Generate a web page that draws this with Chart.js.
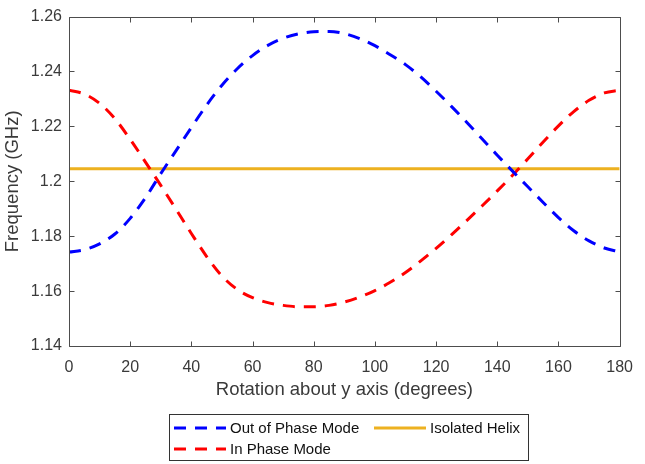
<!DOCTYPE html>
<html>
<head>
<meta charset="utf-8">
<script src="https://cdn.jsdelivr.net/npm/chart.js@4"></script>
<style>
html,body{margin:0;padding:0;background:#fff;}
#wrap{position:relative;width:645px;height:464px;}
</style>
</head>
<body>
<div id="wrap"><canvas id="c" width="645" height="464"></canvas></div>
<script>
// ---- data ----
const angles = [0,5,10,15,20,25,30,35,40,45,50,55,60,65,70,75,80,85,90,95,100,105,110,115,120,125,130,135,140,145,150,155,160,165,170,175,180];
const outOfPhase = [1.1742,1.1751,1.1772,1.1808,1.1865,1.1940,1.2028,1.2112,1.2196,1.2278,1.2350,1.2410,1.2458,1.2495,1.2521,1.2537,1.2545,1.2546,1.2538,1.2520,1.2494,1.2461,1.2425,1.2380,1.2328,1.2273,1.2215,1.2155,1.2095,1.2037,1.1980,1.1923,1.1868,1.1820,1.1783,1.1757,1.1743];
const inPhase = [1.2332,1.2318,1.2284,1.2228,1.2153,1.2070,1.1985,1.1898,1.1810,1.1726,1.1655,1.1606,1.1576,1.1558,1.1548,1.1543,1.1543,1.1548,1.1560,1.1578,1.1602,1.1632,1.1668,1.1710,1.1756,1.1805,1.1857,1.1910,1.1965,1.2022,1.2082,1.2143,1.2202,1.2254,1.2295,1.2322,1.2332];
const isolatedHelix = [1.2046,1.2046];
const helixAngles = [0,180];
const seriesNames = ['Out of Phase Mode', 'In Phase Mode', 'Isolated Helix'];
const xTickValues = [0,20,40,60,80,100,120,140,160,180];
const yTickValues = [1.14,1.16,1.18,1.20,1.22,1.24,1.26];
const yTickLabels = ['1.14','1.16','1.18','1.2','1.22','1.24','1.26'];
const xTitle = 'Rotation about y axis (degrees)';
const yTitle = 'Frequency (GHz)';

const FONT = '"Liberation Sans", Arial, Helvetica, sans-serif';
const TEXT = '#3a3a3a';
const AXIS = '#4d4d4d';
const BLUE = '#0000ff', RED = '#ff0000', GOLD = '#edb120';
const DASH = [12, 9];

const pts = (xs, vals) => xs.map((a, i) => ({x: a, y: vals[i]}));

const boxTicks = {
  id: 'boxTicks',
  afterDatasetsDraw(chart) {
    const ctx = chart.ctx, a = chart.chartArea;
    const xs = chart.scales.x, ys = chart.scales.y;
    ctx.save();
    ctx.strokeStyle = AXIS; ctx.lineWidth = 1;
    const L = Math.round(a.left) + 0.5, R = Math.round(a.right) + 0.5;
    const T = Math.round(a.top) + 0.5, B = Math.round(a.bottom) + 0.5;
    ctx.beginPath();
    ctx.moveTo(L, T); ctx.lineTo(R, T); ctx.lineTo(R, B); ctx.lineTo(L, B); ctx.closePath();
    const tl = 5;
    xTickValues.forEach(v => {
      const px = Math.round(xs.getPixelForValue(v)) + 0.5;
      ctx.moveTo(px, B); ctx.lineTo(px, B - tl);
      ctx.moveTo(px, T); ctx.lineTo(px, T + tl);
    });
    yTickValues.forEach(v => {
      const py = Math.round(ys.getPixelForValue(v)) + 0.5;
      ctx.moveTo(L, py); ctx.lineTo(L + tl, py);
      ctx.moveTo(R, py); ctx.lineTo(R - tl, py);
    });
    ctx.stroke();
    ctx.restore();
  },
  afterDraw(chart) {
    const ctx = chart.ctx;
    const ds = chart.data.datasets;
    ctx.save();
    ctx.fillStyle = '#fff';
    ctx.fillRect(169.5, 414.5, 359, 46);
    ctx.strokeStyle = '#333'; ctx.lineWidth = 1;
    ctx.strokeRect(169.5, 414.5, 359, 46);
    const items = [
      {ds: ds[0], x: 174, y: 428},
      {ds: ds[2], x: 374, y: 428},
      {ds: ds[1], x: 174, y: 449}
    ];
    ctx.font = '15px ' + FONT;
    ctx.textBaseline = 'middle';
    items.forEach(it => {
      ctx.strokeStyle = it.ds.borderColor;
      ctx.lineWidth = it.ds.borderWidth;
      ctx.setLineDash(it.ds.borderDash || []);
      ctx.beginPath(); ctx.moveTo(it.x, it.y); ctx.lineTo(it.x + 52, it.y); ctx.stroke();
      ctx.setLineDash([]);
      ctx.fillStyle = '#111';
      ctx.fillText(it.ds.label, it.x + 56, it.y + 1);
    });
    ctx.restore();
  }
};

new Chart(document.getElementById('c'), {
  type: 'line',
  data: {
    datasets: [
      {label: seriesNames[0], data: pts(angles, outOfPhase), borderColor: BLUE, borderWidth: 3, borderDash: DASH, pointRadius: 0, cubicInterpolationMode: 'monotone', fill: false},
      {label: seriesNames[1], data: pts(angles, inPhase), borderColor: RED, borderWidth: 3, borderDash: DASH, pointRadius: 0, cubicInterpolationMode: 'monotone', fill: false},
      {label: seriesNames[2], data: pts(helixAngles, isolatedHelix), borderColor: GOLD, borderWidth: 3, pointRadius: 0, fill: false}
    ]
  },
  options: {
    responsive: false,
    animation: false,
    layout: {padding: {left: 0, top: 10, right: 18, bottom: 58}},
    plugins: {legend: {display: false}, tooltip: {enabled: false}},
    scales: {
      x: {
        type: 'linear', min: 0, max: 180,
        afterBuildTicks: s => { s.ticks = xTickValues.map(v => ({value: v})); },
        afterFit: s => { s.height = 60; },
        grid: {display: false, drawTicks: false},
        border: {display: false},
        ticks: {color: TEXT, font: {family: FONT, size: 16}, padding: 12, maxRotation: 0, autoSkip: false},
        title: {display: true, text: xTitle, color: TEXT, font: {family: FONT, size: 18.5}, padding: {top: 0, bottom: 5}}
      },
      y: {
        type: 'linear', min: 1.14, max: 1.26,
        afterBuildTicks: s => { s.ticks = yTickValues.map(v => ({value: v})); },
        afterFit: s => { s.width = 69; },
        grid: {display: false, drawTicks: false},
        border: {display: false},
        ticks: {color: TEXT, font: {family: FONT, size: 16}, padding: 7, autoSkip: false,
          callback: (v) => { const i = yTickValues.findIndex(t => Math.abs(t - v) < 1e-9); return i >= 0 ? yTickLabels[i] : ''; }},
        title: {display: true, text: yTitle, color: TEXT, font: {family: FONT, size: 18.5}, padding: {top: 2, bottom: 0}}
      }
    }
  },
  plugins: [boxTicks]
});
</script>
</body>
</html>
